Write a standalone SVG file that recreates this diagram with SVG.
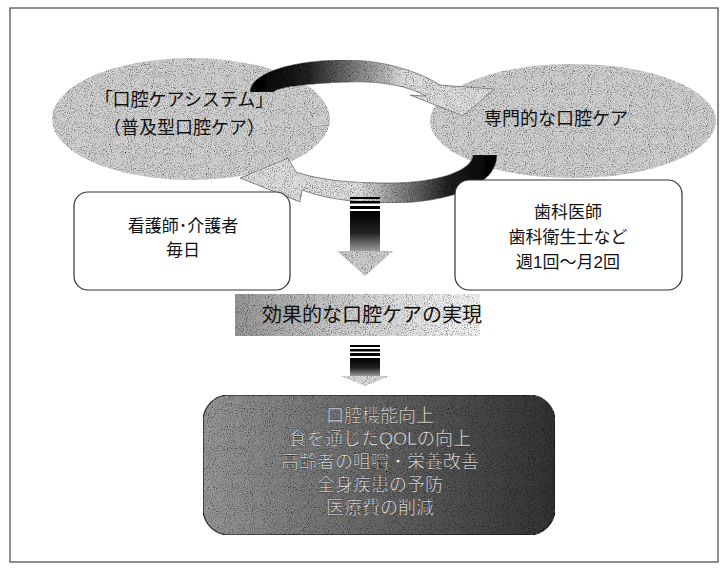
<svg xmlns="http://www.w3.org/2000/svg" width="726" height="569" viewBox="0 0 726 569">
<style>
  .t { font-family: "Liberation Sans", "Noto Sans CJK JP", sans-serif; text-anchor: middle; fill: #111; }
  .ell { font-size: 18px; }
  .box { font-size: 17px; }
  .band { font-size: 20px; text-anchor: start; }
  .res { font-size: 18px; fill: #e8e8e8; stroke: #222; stroke-width: 0.4px; }
  .wbox { fill: #fff; stroke: #333; stroke-width: 1.2; }
</style>
<defs>
  <filter id="grain" x="0" y="0" width="1" height="1">
    <feTurbulence type="fractalNoise" baseFrequency="0.95" numOctaves="2" seed="4" result="t"/>
    <feColorMatrix in="t" type="matrix" values="2.2 0 0 0 -0.2  2.2 0 0 0 -0.2  2.2 0 0 0 -0.2  0 0 0 0 1" result="g"/>
    <feComposite in="g" in2="SourceGraphic" operator="in" result="gm"/>
    <feBlend in="SourceGraphic" in2="gm" mode="multiply"/>
  </filter>
  <linearGradient id="gTop" gradientUnits="userSpaceOnUse" x1="255" y1="0" x2="405" y2="0">
    <stop offset="0" stop-color="#000"/>
    <stop offset="0.35" stop-color="#222"/>
    <stop offset="1" stop-color="#e0e0e0"/>
  </linearGradient>
  <linearGradient id="gBot" gradientUnits="userSpaceOnUse" x1="495" y1="0" x2="360" y2="0">
    <stop offset="0" stop-color="#000"/>
    <stop offset="0.35" stop-color="#222"/>
    <stop offset="1" stop-color="#e0e0e0"/>
  </linearGradient>
  <linearGradient id="gDown" x1="0" y1="0" x2="0" y2="1">
    <stop offset="0" stop-color="#000"/>
    <stop offset="0.55" stop-color="#222"/>
    <stop offset="1" stop-color="#9a9a9a"/>
  </linearGradient>
  <linearGradient id="gBand" x1="0" y1="0" x2="1" y2="0">
    <stop offset="0" stop-color="#999"/>
    <stop offset="0.45" stop-color="#d0d0d0"/>
    <stop offset="1" stop-color="#fafafa"/>
  </linearGradient>
  <linearGradient id="gRes" x1="0" y1="0" x2="1" y2="0">
    <stop offset="0" stop-color="#9a9a9a"/>
    <stop offset="0.5" stop-color="#666"/>
    <stop offset="1" stop-color="#333"/>
  </linearGradient>
</defs>

<rect x="0" y="0" width="726" height="569" fill="#fff"/>
<rect x="10" y="8" width="708" height="554" fill="none" stroke="#444" stroke-width="1.2"/>

<g id="node-system">
  <ellipse cx="191" cy="119" rx="139" ry="61" fill="#d2d2d2" filter="url(#grain)"/>
  <text class="t ell" x="184" y="106">「口腔ケアシステム」</text>
  <text class="t ell" x="184" y="134">（普及型口腔ケア）</text>
</g>

<g id="node-professional">
  <ellipse cx="573" cy="121" rx="143" ry="57" fill="#d2d2d2" filter="url(#grain)"/>
  <text class="t ell" x="556" y="125">専門的な口腔ケア</text>
</g>

<g id="connectors">
  <path d="M250,92 C250,72 295,60 345,60 C385,60 420,72 440,85 L495,89 L463,116 L410,95 L426,96 C408,86 382,81 350,82 C308,83 275,88 274,92 Z" fill="url(#gTop)" stroke="#333" stroke-width="0.6" filter="url(#grain)"/>
  <path d="M497,155 C497,185 450,203 390,203 C350,203 320,197 302,190 L300,202 L240,178 L288,158 L296,172 C320,180 350,183 388,183 C440,183 472,170 473,155 Z" fill="url(#gBot)" stroke="#333" stroke-width="0.6" filter="url(#grain)"/>
  <g id="down1">
    <rect x="350" y="197" width="30" height="2" fill="#000"/>
    <rect x="350" y="201" width="30" height="2.5" fill="#000"/>
    <rect x="350" y="206" width="30" height="3" fill="#000"/>
    <rect x="350" y="211" width="30" height="40" fill="url(#gDown)"/>
    <polygon points="337,251 393,251 365,276" fill="#cfcfcf" filter="url(#grain)"/>
  </g>
  <g id="down2">
    <rect x="350" y="345" width="30" height="2" fill="#000"/>
    <rect x="350" y="349" width="30" height="2.5" fill="#000"/>
    <rect x="350" y="353" width="30" height="3" fill="#000"/>
    <rect x="350" y="358" width="30" height="18" fill="url(#gDown)"/>
    <polygon points="340,376 390,376 365,386" fill="#dcdcdc" filter="url(#grain)"/>
  </g>
</g>

<g id="node-nurse">
  <rect class="wbox" x="74" y="192" width="216" height="98" rx="14"/>
  <text class="t box" x="183" y="232">看護師･介護者</text>
  <text class="t box" x="183" y="256">毎日</text>
</g>

<g id="node-dentist">
  <rect class="wbox" x="455" y="180" width="227" height="110" rx="14"/>
  <text class="t box" x="568" y="218">歯科医師</text>
  <text class="t box" x="568" y="243">歯科衛生士など</text>
  <text class="t box" x="568" y="268">週1回～月2回</text>
</g>

<g id="node-effective">
  <rect x="235" y="294" width="245" height="42" fill="url(#gBand)" filter="url(#grain)"/>
  <text class="t band" x="262" y="322">効果的な口腔ケアの実現</text>
</g>

<g id="node-outcomes">
  <rect x="203" y="395" width="352" height="140" rx="26" fill="url(#gRes)" stroke="#111" stroke-width="1.2" filter="url(#grain)"/>
  <text class="t res" x="380" y="422">口腔機能向上</text>
  <text class="t res" x="380" y="445">食を通じたQOLの向上</text>
  <text class="t res" x="380" y="468">高齢者の咀嚼・栄養改善</text>
  <text class="t res" x="380" y="491">全身疾患の予防</text>
  <text class="t res" x="380" y="514">医療費の削減</text>
</g>
</svg>
